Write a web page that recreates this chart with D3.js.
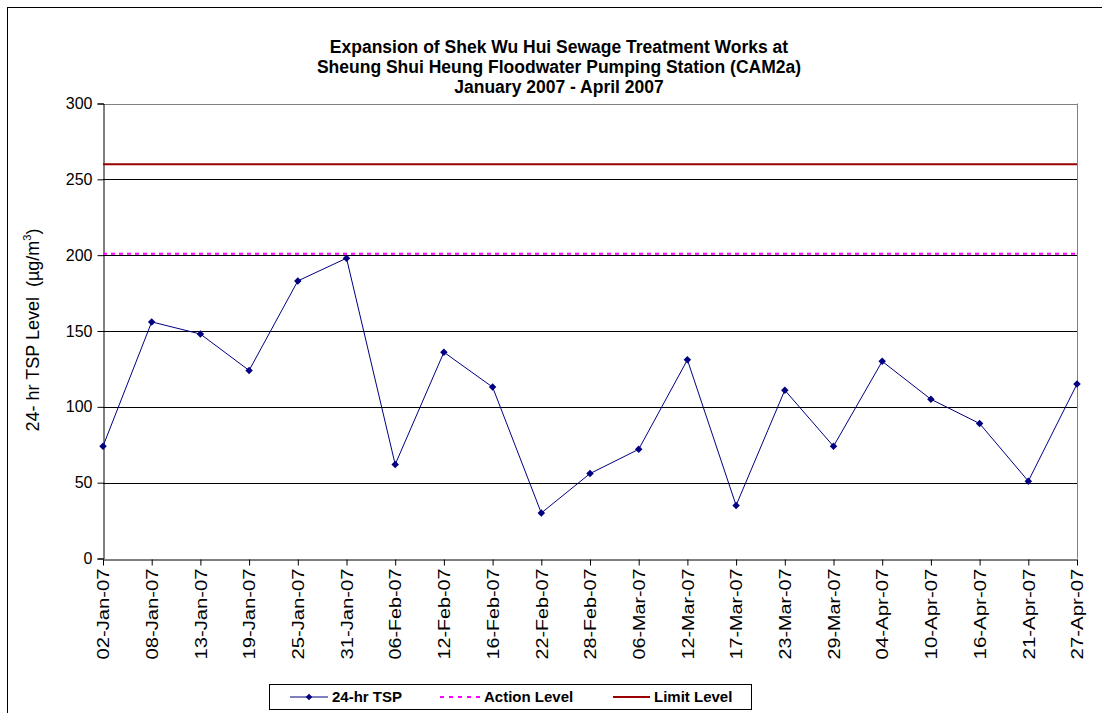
<!DOCTYPE html>
<html>
<head>
<meta charset="utf-8">
<script src="https://cdn.jsdelivr.net/npm/d3@7"></script>
<style>
  body { margin: 0; background: #fff; }
  svg { display: block; font-family: "Liberation Sans", Arial, sans-serif; }
</style>
</head>
<body>
<svg id="chart"></svg>
<script>
const dates = [
  "02-Jan-07", "08-Jan-07", "13-Jan-07", "19-Jan-07", "25-Jan-07", "31-Jan-07",
  "06-Feb-07", "12-Feb-07", "16-Feb-07", "22-Feb-07", "28-Feb-07", "06-Mar-07",
  "12-Mar-07", "17-Mar-07", "23-Mar-07", "29-Mar-07", "04-Apr-07", "10-Apr-07",
  "16-Apr-07", "21-Apr-07", "27-Apr-07"
];
const tsp = [74, 156, 148, 124, 183, 198, 62, 136, 113, 30, 56, 72, 131, 35, 111, 74, 130, 105, 89, 51, 115];
const actionLevel = 201;
const limitLevel = 260;
const yTicks = [0, 50, 100, 150, 200, 250, 300];
const titleLines = [
  "Expansion of Shek Wu Hui Sewage Treatment Works at",
  "Sheung Shui Heung Floodwater Pumping Station (CAM2a)",
  "January 2007 - April 2007"
];

const width = 1102, height = 713;
const plot = { left: 103, right: 1077, top: 103.5, bottom: 558.5 };

const svg = d3.select("#chart").attr("width", width).attr("height", height);

// outer chart frame (only top/left edges visible)
svg.append("rect")
  .attr("x", 7.5).attr("y", 7.5)
  .attr("width", 1120).attr("height", 740)
  .attr("fill", "none").attr("stroke", "#000");

const x = d3.scalePoint().domain(dates).range([plot.left, plot.right]);
const y = d3.scaleLinear().domain([0, 300]).range([plot.bottom, plot.top]);

// title
svg.append("text")
  .attr("text-anchor", "middle")
  .attr("font-weight", "bold")
  .attr("font-size", 17.5)
  .selectAll("tspan")
  .data(titleLines)
  .join("tspan")
  .attr("x", 559)
  .attr("y", (d, i) => 53 + i * 20)
  .text((d) => d);

// gridlines
svg.append("g")
  .selectAll("line")
  .data(yTicks.filter((d) => d > 0))
  .join("line")
  .attr("x1", plot.left).attr("x2", plot.right)
  .attr("y1", (d) => Math.round(y(d)) + 0.5).attr("y2", (d) => Math.round(y(d)) + 0.5)
  .attr("stroke", (d) => (d === 300 ? "#808080" : "#000"));

// right plot border
svg.append("line")
  .attr("x1", plot.right + 0.5).attr("x2", plot.right + 0.5)
  .attr("y1", y(300)).attr("y2", y(0))
  .attr("stroke", "#808080");

// y axis
const yAxis = svg.append("g")
  .attr("transform", `translate(${plot.left + 0.5},0)`)
  .call(d3.axisLeft(y).tickValues(yTicks).tickSize(6).tickPadding(5));
yAxis.select(".domain").attr("stroke", "#000");
yAxis.selectAll("text").attr("font-size", 16).attr("fill", "#000")
  .attr("font-family", "Liberation Sans, Arial, sans-serif");

// x axis
const xAxis = svg.append("g")
  .attr("transform", `translate(0,${Math.round(plot.bottom) + 0.5})`)
  .call(d3.axisBottom(x).tickSize(6).tickSizeOuter(0));
xAxis.select(".domain").attr("stroke", "#000");
xAxis.selectAll("text")
  .attr("font-size", 16)
  .attr("font-family", "Liberation Sans, Arial, sans-serif")
  .attr("fill", "#000")
  .attr("text-anchor", "end")
  .attr("transform", "rotate(-90)")
  .attr("x", -9)
  .attr("y", 0)
  .attr("dy", "0.36em")
  .attr("textLength", 91)
  .attr("lengthAdjust", "spacingAndGlyphs");

// y axis label
const yLabel = svg.append("text")
  .attr("transform", "translate(39,330) rotate(-90)")
  .attr("text-anchor", "middle")
  .attr("font-size", 18)
  .style("white-space", "pre");
yLabel.append("tspan").text("24- hr TSP Level  (\u00b5g/m");
yLabel.append("tspan").attr("font-size", 11).attr("dy", -8).text("3");
yLabel.append("tspan").attr("dy", 8).text(")");

// limit and action levels
svg.append("line")
  .attr("x1", plot.left).attr("x2", plot.right)
  .attr("y1", y(limitLevel)).attr("y2", y(limitLevel))
  .attr("stroke", "#990000").attr("stroke-width", 2);

svg.append("line")
  .attr("x1", plot.left).attr("x2", plot.right)
  .attr("y1", y(actionLevel)).attr("y2", y(actionLevel))
  .attr("stroke", "#ff00ff").attr("stroke-width", 2)
  .attr("stroke-dasharray", "4,4");

// TSP series
const line = d3.line().x((d, i) => x(dates[i])).y((d) => y(d));
svg.append("path")
  .datum(tsp)
  .attr("d", line)
  .attr("fill", "none")
  .attr("stroke", "#000080")
  .attr("stroke-width", 1);

const diamond = d3.symbol(d3.symbolSquare, 28);
svg.append("g")
  .selectAll("path")
  .data(tsp)
  .join("path")
  .attr("d", diamond)
  .attr("transform", (d, i) => `translate(${x(dates[i])},${y(d)}) rotate(45)`)
  .attr("fill", "#000080");

// legend
const legend = svg.append("g");
legend.append("rect")
  .attr("x", 269.5).attr("y", 684.5)
  .attr("width", 482).attr("height", 25)
  .attr("fill", "#fff").attr("stroke", "#000");

const legendItems = [
  { label: "24-hr TSP", x1: 290, x2: 328, color: "#000080", w: 1, dash: null, marker: true },
  { label: "Action Level", x1: 440, x2: 480, color: "#ff00ff", w: 2, dash: "4,5", marker: false },
  { label: "Limit Level", x1: 613, x2: 650, color: "#990000", w: 2, dash: null, marker: false }
];
legendItems.forEach((d) => {
  legend.append("line")
    .attr("x1", d.x1).attr("x2", d.x2)
    .attr("y1", 697).attr("y2", 697)
    .attr("stroke", d.color).attr("stroke-width", d.w)
    .attr("stroke-dasharray", d.dash);
  if (d.marker) {
    legend.append("path")
      .attr("d", d3.symbol(d3.symbolSquare, 22))
      .attr("transform", `translate(${(d.x1 + d.x2) / 2},697) rotate(45)`)
      .attr("fill", d.color);
  }
  legend.append("text")
    .attr("x", d.x2 + 4).attr("y", 697)
    .attr("dy", "0.36em")
    .attr("font-size", 15)
    .attr("font-weight", "bold")
    .text(d.label);
});
</script>
</body>
</html>
